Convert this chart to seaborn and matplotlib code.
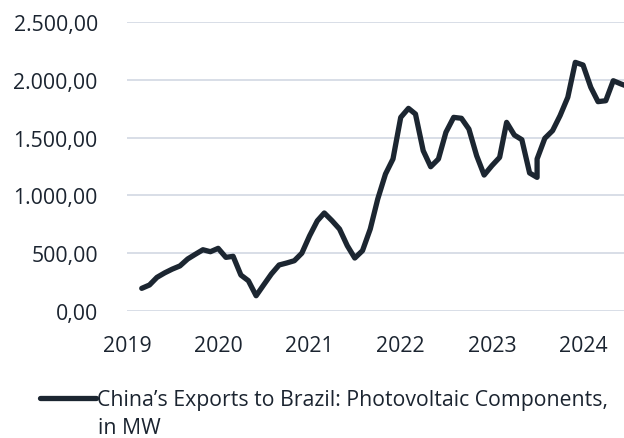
import pandas as pd
import numpy as np
import matplotlib
matplotlib.use("Agg")
import matplotlib.pyplot as plt
import matplotlib.dates as mdates
import matplotlib.ticker as mticker
import seaborn as sns

# monthly values, Mar 2019 onwards (MW)
exports_mw = [196, 225, 291, 330, 362, 390, 450, 490, 530, 513,
              542, 464, 473, 311, 262, 132, 225, 320, 398, 415,
              435, 500, 650, 780, 848, 781, 709, 565, 458, 522,
              709, 969, 1185, 1315, 1675, 1753, 1704, 1387, 1248, 1315,
              1546, 1675, 1667, 1574, 1343, 1176, 1257, 1329, 1632, 1522,
              1482, 1194, 1156, 1494, 1560, 1690, 1849, 2151, 2128, 1935,
              1811, 1819, 1992, 1964, 1940]
months = list(pd.date_range("2019-03-01", periods=len(exports_mw), freq="MS"))

# the source series has a second reading in Jul 2023
extra_month = pd.Timestamp("2023-07-01")
extra_value = 1315
pos = months.index(extra_month) + 1
months.insert(pos, extra_month)
exports_mw.insert(pos, extra_value)

year_ticks = [pd.Timestamp(f"{y}-01-01") for y in range(2019, 2025)]
y_ticks = [0, 500, 1000, 1500, 2000, 2500]

legend_line1 = "China’s Exports to Brazil: Photovoltaic Components,"
legend_line2 = "in MW"

df = pd.DataFrame({"month": months, "mw": exports_mw})

sns.set_theme(style="white")
plt.rcParams["font.family"] = ["Open Sans", "DejaVu Sans"]

text_col = "#1b2430"
line_col = "#1c2631"
grid_col = "#d6dbe5"
fs = 15.3

fig = plt.figure(figsize=(6.24, 4.39), dpi=100)
ax = fig.add_axes([127 / 624, 1 - 312 / 439, 497 / 624, (312 - 23) / 439])

sns.lineplot(data=df, x="month", y="mw", ax=ax, estimator=None, sort=False,
             color=line_col, linewidth=3.7, label=legend_line1, legend=False)

ax.set_xlim(pd.Timestamp("2019-01-05"), pd.Timestamp("2024-06-13"))
ax.set_ylim(0, 2500)
ax.set_xticks(year_ticks)
ax.xaxis.set_major_formatter(mdates.DateFormatter("%Y"))
ax.set_yticks(y_ticks)
ax.yaxis.set_major_formatter(mticker.FuncFormatter(
    lambda v, p: f"{v:,.2f}".replace(",", "X").replace(".", ",").replace("X", ".")))

ax.grid(axis="y", color=grid_col, linewidth=1.3)
ax.grid(axis="x", visible=False)
ax.set_axisbelow(True)
for s in ax.spines.values():
    s.set_visible(False)
ax.tick_params(axis="both", length=0, labelsize=fs, colors=text_col)
ax.tick_params(axis="y", pad=21)
ax.tick_params(axis="x", pad=17)
ax.set_xlabel("")
ax.set_ylabel("")

handles, labels = ax.get_legend_handles_labels()
handles[0].set_linewidth(3.8)
leg = fig.legend(handles, labels, loc="center left",
                 bbox_to_anchor=(40 / 624, 1 - 401 / 439), frameon=False,
                 fontsize=fs, handlelength=2.65, handletextpad=0.05,
                 borderpad=0, borderaxespad=0, labelcolor=text_col)
fig.text(98 / 624, 1 - 434 / 439, legend_line2, fontsize=fs, color=text_col,
         va="baseline", ha="left")

fig.savefig("out.png", dpi=100)
